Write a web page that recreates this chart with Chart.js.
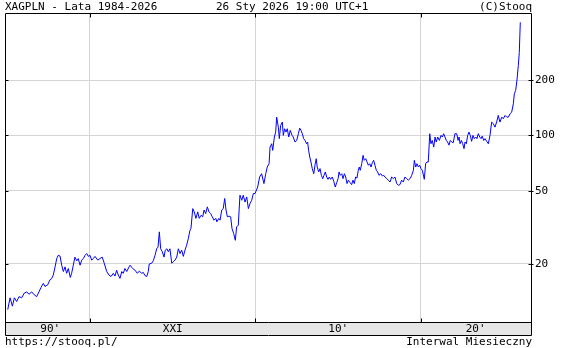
<!DOCTYPE html>
<html><head><meta charset="utf-8">
<style>html,body{margin:0;padding:0;background:#fff;overflow:hidden}</style>
<script src="https://cdn.jsdelivr.net/npm/chart.js@4/dist/chart.umd.min.js"></script>
</head><body>
<div style="position:relative;width:564px;height:348px"><canvas id="c" width="564" height="348"></canvas></div>
<script>
const titleText = 'XAGPLN - Lata 1984-2026';
const dateText = '26 Sty 2026 19:00 UTC+1';
const copyText = '(C)Stooq';
const footerLeft = 'https://stooq.pl/';
const footerRight = 'Interwal Miesieczny';

const yTickValues = [20, 50, 100, 200];
const xGridYears = [2000, 2010, 2020];
const decadeLabels = ["90'", 'XXI', "10'", "20'"];
const decadeLabelYears = [1997.6, 2005, 2015, 2023.3];
const xRange = [1994.864, 2026.647];
const yRange = [9.678, 462.6];

// time (decimal years) of each traced point
const dates = [
 1995.03,1995.17,1995.31,1995.43,1995.57,1995.71,1995.87,1996.03,1996.18,1996.31,
 1996.48,1996.63,1996.78,1996.88,1997.04,1997.18,1997.28,1997.44,1997.58,1997.69,
 1997.78,1997.89,1997.99,1998.08,1998.19,1998.29,1998.39,1998.49,1998.59,1998.69,
 1998.81,1998.89,1998.99,1999.09,1999.20,1999.29,1999.40,1999.50,1999.60,1999.70,
 1999.80,1999.90,2000.00,2000.10,2000.20,2000.30,2000.47,2000.60,2000.74,2000.86,
 2001.01,2001.15,2001.27,2001.41,2001.51,2001.61,2001.71,2001.81,2001.92,2002.01,
 2002.11,2002.22,2002.36,2002.42,2002.58,2002.72,2002.86,2002.98,2003.12,2003.22,
 2003.32,2003.43,2003.52,2003.58,2003.73,2003.82,2003.93,2004.03,2004.11,2004.19,
 2004.27,2004.37,2004.47,2004.55,2004.65,2004.73,2004.83,2004.94,2005.03,2005.14,
 2005.24,2005.34,2005.44,2005.54,2005.64,2005.74,2005.84,2005.94,2006.04,2006.10,
 2006.21,2006.30,2006.40,2006.51,2006.60,2006.71,2006.81,2006.89,2006.99,2007.09,
 2007.19,2007.29,2007.39,2007.49,2007.60,2007.67,2007.78,2007.86,2007.96,2008.05,
 2008.14,2008.22,2008.30,2008.40,2008.50,2008.58,2008.68,2008.78,2008.86,2008.96,
 2009.06,2009.17,2009.26,2009.37,2009.47,2009.57,2009.67,2009.77,2009.87,2009.97,
 2010.13,2010.25,2010.37,2010.51,2010.62,2010.71,2010.82,2010.88,2010.98,2011.04,
 2011.14,2011.22,2011.28,2011.38,2011.44,2011.52,2011.62,2011.68,2011.76,2011.84,
 2011.92,2012.01,2012.10,2012.21,2012.28,2012.39,2012.49,2012.59,2012.67,2012.75,
 2012.83,2012.91,2012.99,2013.09,2013.15,2013.21,2013.28,2013.35,2013.43,2013.52,
 2013.60,2013.67,2013.73,2013.82,2013.90,2013.98,2014.06,2014.14,2014.22,2014.30,
 2014.38,2014.46,2014.54,2014.64,2014.73,2014.82,2014.91,2014.99,2015.05,2015.12,
 2015.21,2015.29,2015.37,2015.45,2015.53,2015.61,2015.71,2015.81,2015.89,2015.97,
 2016.05,2016.13,2016.21,2016.27,2016.33,2016.42,2016.50,2016.57,2016.66,2016.74,
 2016.82,2016.90,2016.98,2017.06,2017.14,2017.22,2017.30,2017.38,2017.46,2017.57,
 2017.66,2017.75,2017.82,2017.93,2018.02,2018.13,2018.23,2018.33,2018.43,2018.53,
 2018.63,2018.73,2018.83,2018.93,2019.03,2019.14,2019.23,2019.34,2019.44,2019.54,
 2019.60,2019.68,2019.76,2019.84,2019.92,2020.00,2020.08,2020.20,2020.28,2020.36,
 2020.44,2020.53,2020.60,2020.68,2020.77,2020.85,2020.92,2021.01,2021.11,2021.21,
 2021.29,2021.37,2021.45,2021.53,2021.61,2021.69,2021.77,2021.86,2021.95,2022.05,
 2022.16,2022.24,2022.30,2022.36,2022.44,2022.52,2022.60,2022.66,2022.74,2022.82,
 2022.90,2022.98,2023.06,2023.14,2023.22,2023.31,2023.38,2023.46,2023.55,2023.63,
 2023.70,2023.79,2023.87,2023.97,2024.07,2024.17,2024.27,2024.37,2024.47,2024.57,
 2024.67,2024.77,2024.88,2024.97,2025.08,2025.18,2025.28,2025.38,2025.48,2025.58,
 2025.64,2025.72,2025.80,2025.88,2025.94,2026.00
];
// XAG/PLN close for each point
const prices = [
 11.3,13.1,11.8,13.1,12.5,13.3,13.1,13.9,14.1,13.7,
 14.1,13.6,13.3,13.9,14.9,15.7,15.1,15.4,16.4,16.7,
 17.4,19.3,21.4,22.3,22.1,19.7,18.2,19.3,17.8,18.9,
 16.9,17.8,19.7,21.8,20.8,21.4,19.7,21.0,21.4,22.3,
 22.8,22.0,22.3,21.0,21.4,22.0,21.0,21.4,21.8,20.2,
 18.2,17.4,17.1,17.8,17.2,18.5,17.4,16.7,18.2,17.8,
 18.9,18.2,19.3,19.7,18.9,18.5,17.8,18.3,17.8,18.0,
 17.3,17.1,18.2,20.0,20.2,20.8,22.3,24.2,24.7,29.9,
 24.2,23.3,21.8,23.8,24.2,23.3,24.2,20.2,20.6,21.0,
 21.8,24.2,22.8,23.8,22.0,23.8,25.3,27.5,30.5,31.2,
 40.0,38.4,35.4,38.4,35.4,36.8,36.1,39.3,37.6,40.9,
 38.4,37.6,36.1,34.6,35.4,33.9,35.4,34.6,39.3,40.0,
 45.4,39.3,36.1,36.4,36.1,31.2,29.3,26.9,31.8,32.5,
 47.3,44.4,47.3,43.4,46.3,40.0,42.7,44.4,48.3,48.3,
 52.4,59.4,61.9,54.7,61.9,67.3,70.2,86.4,90.1,82.9,
 98.0,104.2,125.7,110.9,96.0,113.3,118.1,100.0,108.7,104.2,
 108.7,98.0,106.5,100.0,98.0,92.0,93.9,102.1,109.5,106.5,
 102.1,96.0,93.9,90.1,92.0,82.9,76.3,71.7,66.0,61.9,
 69.4,74.7,67.3,63.3,66.0,60.7,58.2,60.7,63.3,59.4,
 57.7,59.4,57.7,59.4,56.3,52.4,55.5,58.2,63.3,60.7,
 61.9,58.2,61.9,59.4,54.7,57.1,55.5,54.0,57.1,54.7,
 59.4,58.6,64.6,67.3,64.6,70.2,77.9,73.2,74.7,71.7,
 68.8,70.2,67.3,71.1,73.2,68.8,64.6,63.3,60.7,61.9,
 60.2,60.7,59.4,58.2,57.1,55.8,59.4,58.2,59.4,54.7,
 53.6,54.0,57.1,55.8,59.4,58.2,57.1,58.2,60.7,64.6,
 73.2,67.3,70.2,67.3,68.8,66.0,64.6,57.7,70.2,71.7,
 71.7,102.1,90.1,93.9,86.4,98.0,92.0,98.0,93.9,100.0,
 98.0,102.1,98.0,93.9,92.0,88.5,93.9,92.0,91.3,102.1,
 102.1,93.9,98.0,90.1,93.9,90.1,84.7,92.0,90.1,100.0,
 104.2,100.0,92.8,100.0,96.0,98.0,96.0,102.1,98.0,96.0,
 99.1,93.9,96.0,92.8,90.1,100.0,118.1,115.7,110.9,118.1,
 128.4,118.1,125.7,123.2,128.4,125.7,125.7,131.1,133.7,148.6,
 168.3,175.4,200,239.6,282.7,411.6
];

const FONT = 'DejaVu Sans Mono';
Chart.defaults.font.family = FONT;
Chart.defaults.font.size = 11;
Chart.defaults.color = '#000';

const GRID = '#d4d4d4';
const BAND = '#e6e6e6';

const decor = {
  id: 'decor',
  beforeDraw(chart) {
    const ctx = chart.ctx, a = chart.chartArea;
    ctx.save();
    ctx.fillStyle = BAND;
    ctx.fillRect(a.left, a.bottom, a.right - a.left, 13);
    ctx.restore();
  },
  afterDraw(chart) {
    const ctx = chart.ctx, a = chart.chartArea;
    const xs = chart.scales.x, ys = chart.scales.y;
    ctx.save();
    ctx.strokeStyle = '#000';
    ctx.lineWidth = 1;
    const L = Math.round(a.left) + 0.5, R = Math.round(a.right) + 0.5;
    const T = Math.round(a.top) + 0.5, B = Math.round(a.bottom) + 0.5;
    const BB = B + 13;
    ctx.beginPath();
    ctx.moveTo(L, T); ctx.lineTo(R, T); ctx.lineTo(R, BB); ctx.lineTo(L, BB); ctx.closePath();
    ctx.moveTo(L, B); ctx.lineTo(R, B);
    // inward tick marks
    xGridYears.forEach(v => {
      const px = Math.round(xs.getPixelForValue(v)) + 0.5;
      ctx.moveTo(px, T); ctx.lineTo(px, T + 4);
      ctx.moveTo(px, B); ctx.lineTo(px, B - 4);
    });
    yTickValues.forEach(v => {
      const py = Math.round(ys.getPixelForValue(v)) + 0.5;
      ctx.moveTo(L, py); ctx.lineTo(L + 3, py);
      ctx.moveTo(R, py); ctx.lineTo(R - 3, py);
      ctx.moveTo(R, py); ctx.lineTo(R + 2, py);
    });
    ctx.stroke();
    // header / footer
    ctx.fillStyle = '#000';
    ctx.font = '11px "' + FONT + '"';
    ctx.textBaseline = 'alphabetic';
    ctx.textAlign = 'left';
    ctx.fillText(titleText, 5, 10);
    ctx.fillText(dateText, 216, 10);
    ctx.fillText(footerLeft, 5, 345);
    ctx.textAlign = 'right';
    ctx.fillText(copyText, 532, 10);
    ctx.fillText(footerRight, 532, 345);
    ctx.restore();
  }
};

const xTickValues = xGridYears.concat(decadeLabelYears);

new Chart(document.getElementById('c'), {
  type: 'line',
  data: {
    datasets: [{
      data: dates.map((d, i) => ({ x: d, y: prices[i] })),
      borderColor: '#0000ff',
      borderWidth: 1,
      pointRadius: 0,
      tension: 0,
      fill: false
    }]
  },
  options: {
    responsive: false,
    animation: false,
    devicePixelRatio: 1,
    layout: { padding: { left: 5, right: 0, top: 13, bottom: 13 } },
    plugins: { legend: { display: false }, tooltip: { enabled: false }, title: { display: false } },
    scales: {
      x: {
        type: 'linear', position: 'bottom',
        min: xRange[0], max: xRange[1],
        afterBuildTicks: s => { s.ticks = xTickValues.map(v => ({ value: v })); },
        afterFit: s => { s.height = 13; },
        ticks: {
          autoSkip: false, maxRotation: 0, minRotation: 0, padding: 1,
          callback: v => { const i = decadeLabelYears.indexOf(v); return i >= 0 ? decadeLabels[i] : ''; }
        },
        grid: {
          drawTicks: false,
          color: c => (c.tick && xGridYears.includes(c.tick.value)) ? GRID : 'rgba(0,0,0,0)'
        },
        border: { display: false }
      },
      y: {
        type: 'logarithmic', position: 'right',
        min: yRange[0], max: yRange[1],
        afterBuildTicks: s => { s.ticks = yTickValues.map(v => ({ value: v })); },
        afterFit: s => { s.width = 33; },
        ticks: { padding: 4, callback: v => String(v) },
        grid: { drawTicks: false, color: GRID },
        border: { display: false }
      }
    }
  },
  plugins: [decor]
});
</script>
</body></html>
